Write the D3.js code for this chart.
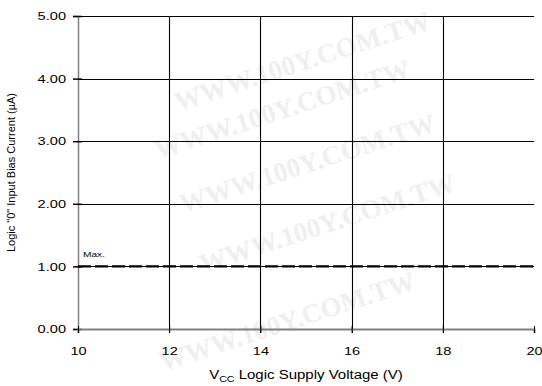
<!DOCTYPE html>
<html>
<head>
<meta charset="utf-8">
<script src="https://cdn.jsdelivr.net/npm/d3@7"></script>
<style>
  body { margin: 0; background: #fff; }
  svg { display: block; font-family: "Liberation Sans", Arial, sans-serif; }
</style>
</head>
<body>
<div id="chart"></div>
<script>
// chart values
const xTicks = [10, 12, 14, 16, 18, 20];
const yTicks = [0, 1, 2, 3, 4, 5];
const maxVoltage = [10, 20];
const maxCurrent = [1.0, 1.0];
const maxLabel = "Max.";

const width = 542, height = 386;
const margin = { left: 78, right: 8, top: 16, bottom: 57 };
const stretch = 1.27; // text in the original is a bit wide

const svg = d3.select("#chart")
  .append("svg")
  .attr("width", width)
  .attr("height", height);

const x = d3.scaleLinear().domain([10, 20]).range([margin.left, width - margin.right]);
const y = d3.scaleLinear().domain([0, 5]).range([height - margin.bottom, margin.top]);

// faint watermark behind everything
const wm = svg.append("g").attr("fill", "#efefef")
  .style("font-family", "'Liberation Serif', 'DejaVu Serif', serif")
  .style("font-weight", "bold")
  .style("font-size", "27px");
const wmSpots = [[305, 70], [285, 118], [310, 172], [330, 232], [290, 330]];
wmSpots.forEach(p => {
  wm.append("text")
    .attr("text-anchor", "middle")
    .attr("transform", `translate(${p[0]},${p[1]}) rotate(-18)`)
    .text("WWW.100Y.COM.TW");
});

// grid
const grid = svg.append("g").attr("stroke", "#000").attr("stroke-width", 1.1);
grid.selectAll("line.h")
  .data(yTicks.filter(d => d > 0))
  .join("line")
  .attr("class", "h")
  .attr("x1", x(10)).attr("x2", x(20))
  .attr("y1", d => Math.round(y(d)) + 0.5).attr("y2", d => Math.round(y(d)) + 0.5);
grid.selectAll("line.v")
  .data(xTicks.filter(d => d > 10 && d < 20))
  .join("line")
  .attr("class", "v")
  .attr("x1", d => Math.round(x(d)) + 0.5).attr("x2", d => Math.round(x(d)) + 0.5)
  .attr("y1", y(5)).attr("y2", y(0) + 4);

// axes
const yAxis = svg.append("g")
  .attr("transform", `translate(${margin.left},0)`)
  .call(d3.axisLeft(y).tickValues(yTicks).tickFormat(d3.format(".2f")).tickSize(5));
yAxis.select(".domain").attr("stroke", "#808080").attr("stroke-width", 1.5);
yAxis.selectAll(".tick line").attr("stroke", "#000").attr("x2", 4).attr("x1", -5).attr("stroke-width", 1.5);
yAxis.selectAll(".tick text")
  .style("font-size", "11.5px").attr("fill", "#000")
  .attr("x", -12 / stretch)
  .attr("transform", `scale(${stretch},1)`);

const xAxis = svg.append("g")
  .attr("transform", `translate(0,${height - margin.bottom})`)
  .call(d3.axisBottom(x).tickValues(xTicks).tickFormat(d3.format("d")).tickSize(4));
xAxis.select(".domain").attr("stroke", "#808080").attr("stroke-width", 2);
xAxis.selectAll(".tick line").attr("stroke", "#000").attr("y1", -3).attr("stroke-width", 1);
xAxis.selectAll(".tick text")
  .style("font-size", "11.5px").attr("fill", "#000")
  .attr("y", 26).attr("dy", null)
  .attr("transform", `scale(${stretch},1)`);

// max line
const pts = maxVoltage.map((v, i) => [v, maxCurrent[i]]);
svg.append("path")
  .datum(pts)
  .attr("fill", "none")
  .attr("stroke", "#000")
  .attr("stroke-width", 2.2)
  .attr("stroke-dasharray", "13,4")
  .attr("d", d3.line().x(d => x(d[0])).y(d => y(d[1])));

svg.append("text")
  .attr("transform", `translate(${x(10) + 5},${y(1) - 9}) scale(${stretch},1)`)
  .style("font-size", "8px")
  .attr("fill", "#000")
  .text(maxLabel);

// axis titles
svg.append("text")
  .attr("transform", `translate(15,${(y(0) + y(5)) / 2}) rotate(-90)`)
  .attr("text-anchor", "middle")
  .style("font-size", "11px")
  .text('Logic "0" Input Bias Current (\u00b5A)');

const xt = svg.append("text")
  .attr("transform", `translate(${(x(10) + x(20)) / 2},379) scale(1.25,1)`)
  .attr("text-anchor", "middle")
  .style("font-size", "12px");
xt.append("tspan").text("V");
xt.append("tspan").attr("dy", 3).style("font-size", "8.5px").text("CC");
xt.append("tspan").attr("dy", -3).text(" Logic Supply Voltage (V)");
</script>
</body>
</html>
